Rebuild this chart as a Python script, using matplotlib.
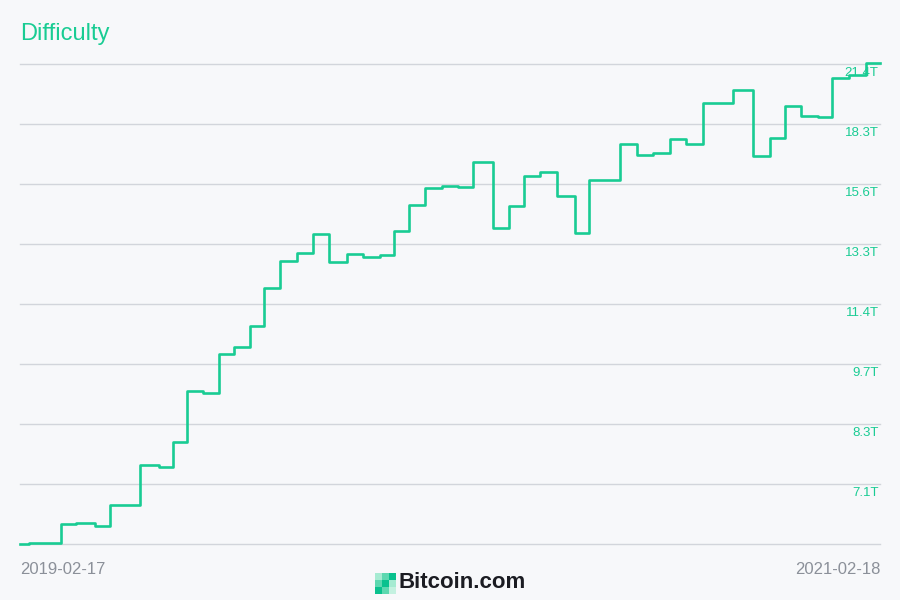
import numpy as np
import pandas as pd
import matplotlib
matplotlib.use("Agg")
import matplotlib.pyplot as plt
from matplotlib.patches import Rectangle

# difficulty adjustments (date the new value took effect, value in T)
dates = ["2019-02-17", "2019-02-25", "2019-03-24", "2019-04-06", "2019-04-22",
         "2019-05-05", "2019-05-30", "2019-06-15", "2019-06-27", "2019-07-09",
         "2019-07-23", "2019-08-05", "2019-08-18", "2019-09-01", "2019-09-13",
         "2019-09-26", "2019-10-11", "2019-10-24", "2019-11-07", "2019-11-22",
         "2019-12-06", "2019-12-20", "2020-01-01", "2020-01-14", "2020-01-28",
         "2020-02-11", "2020-02-25", "2020-03-09", "2020-03-26", "2020-04-08",
         "2020-04-21", "2020-05-05", "2020-05-19", "2020-06-03", "2020-06-15",
         "2020-07-12", "2020-07-26", "2020-08-09", "2020-08-23", "2020-09-06",
         "2020-09-20", "2020-10-16", "2020-11-02", "2020-11-16", "2020-11-29",
         "2020-12-13", "2020-12-27", "2021-01-08", "2021-01-23", "2021-02-06",
         "2021-02-18"]
difficulty = [6.07, 6.08, 6.39, 6.40, 6.36,
              6.71, 7.46, 7.42, 7.93, 9.06,
              9.02, 9.98, 10.18, 10.76, 11.89,
              12.76, 13.01, 13.69, 12.72, 12.98,
              12.88, 12.97, 13.80, 14.78, 15.47,
              15.55, 15.49, 16.55, 13.91, 14.72,
              15.96, 16.10, 15.14, 13.73, 15.78,
              17.35, 16.85, 16.95, 17.55, 17.35,
              19.31, 19.99, 16.79, 17.60, 19.16,
              18.67, 18.60, 20.61, 20.80, 21.43,
              21.43]

x_labels = ["2019-02-17", "2021-02-18"]
y_min, y_max = 6.064, 21.4

green = "#19cc93"
bg = "#f7f8fa"
grid_col = "#d2d5db"

plt.rcParams["font.family"] = ["Liberation Sans", "DejaVu Sans"]

fig = plt.figure(figsize=(9, 6), dpi=100, facecolor=bg)
ax = fig.add_axes([20 / 900, 56 / 600, 860 / 900, 480 / 600])
ax.set_facecolor(bg)

t = pd.to_datetime(dates)
ax.step(t, difficulty, where="post", color=green, lw=1.9, clip_on=False, zorder=3)

ax.set_yscale("log")
ax.set_ylim(y_min, y_max)
ax.set_xlim(pd.Timestamp(x_labels[0]), pd.Timestamp(x_labels[1]))

levels = np.geomspace(y_min, y_max, 9)
for i, v in enumerate(levels):
    ax.axhline(v, color=grid_col, lw=1, zorder=1, clip_on=False)
    if i > 0:
        ax.annotate(f"{v:.1f}T", xy=(1, v), xycoords=("axes fraction", "data"),
                    xytext=(-1, -2.5), textcoords="offset points",
                    ha="right", va="top", fontsize=9.5, color=green, zorder=4)

for s in ax.spines.values():
    s.set_visible(False)
ax.set_xticks([])
ax.set_yticks([])
ax.minorticks_off()

fig.text(20 / 900, 1 - 34 / 600, "Difficulty", fontsize=17, color=green,
         ha="left", va="center")
fig.text(20 / 900, 1 - 570 / 600, x_labels[0], fontsize=12, color="#8b9099",
         ha="left", va="center")
fig.text(880 / 900, 1 - 570 / 600, x_labels[1], fontsize=12, color="#8b9099",
         ha="right", va="center")

# logo
fig.text(398 / 900, 1 - 583 / 600, "Bitcoin.com", fontsize=16, fontweight="bold",
         color="#1b1c22", ha="left", va="center")
shades = [["#a6ebd2", "#5dd8b0", "#0ac18e"],
          ["#5dd8b0", "#0ac18e", "#a6ebd2"],
          ["#0ac18e", "#5dd8b0", "#c4f1e0"]]
cell = 7
for r in range(3):
    for c in range(3):
        fig.patches.append(Rectangle(((375 + c * cell) / 900, 1 - (573 + (r + 1) * cell) / 600),
                                     cell / 900, cell / 600, transform=fig.transFigure,
                                     facecolor=shades[r][c], edgecolor="none"))

fig.savefig("out.png", dpi=100, facecolor=bg)
